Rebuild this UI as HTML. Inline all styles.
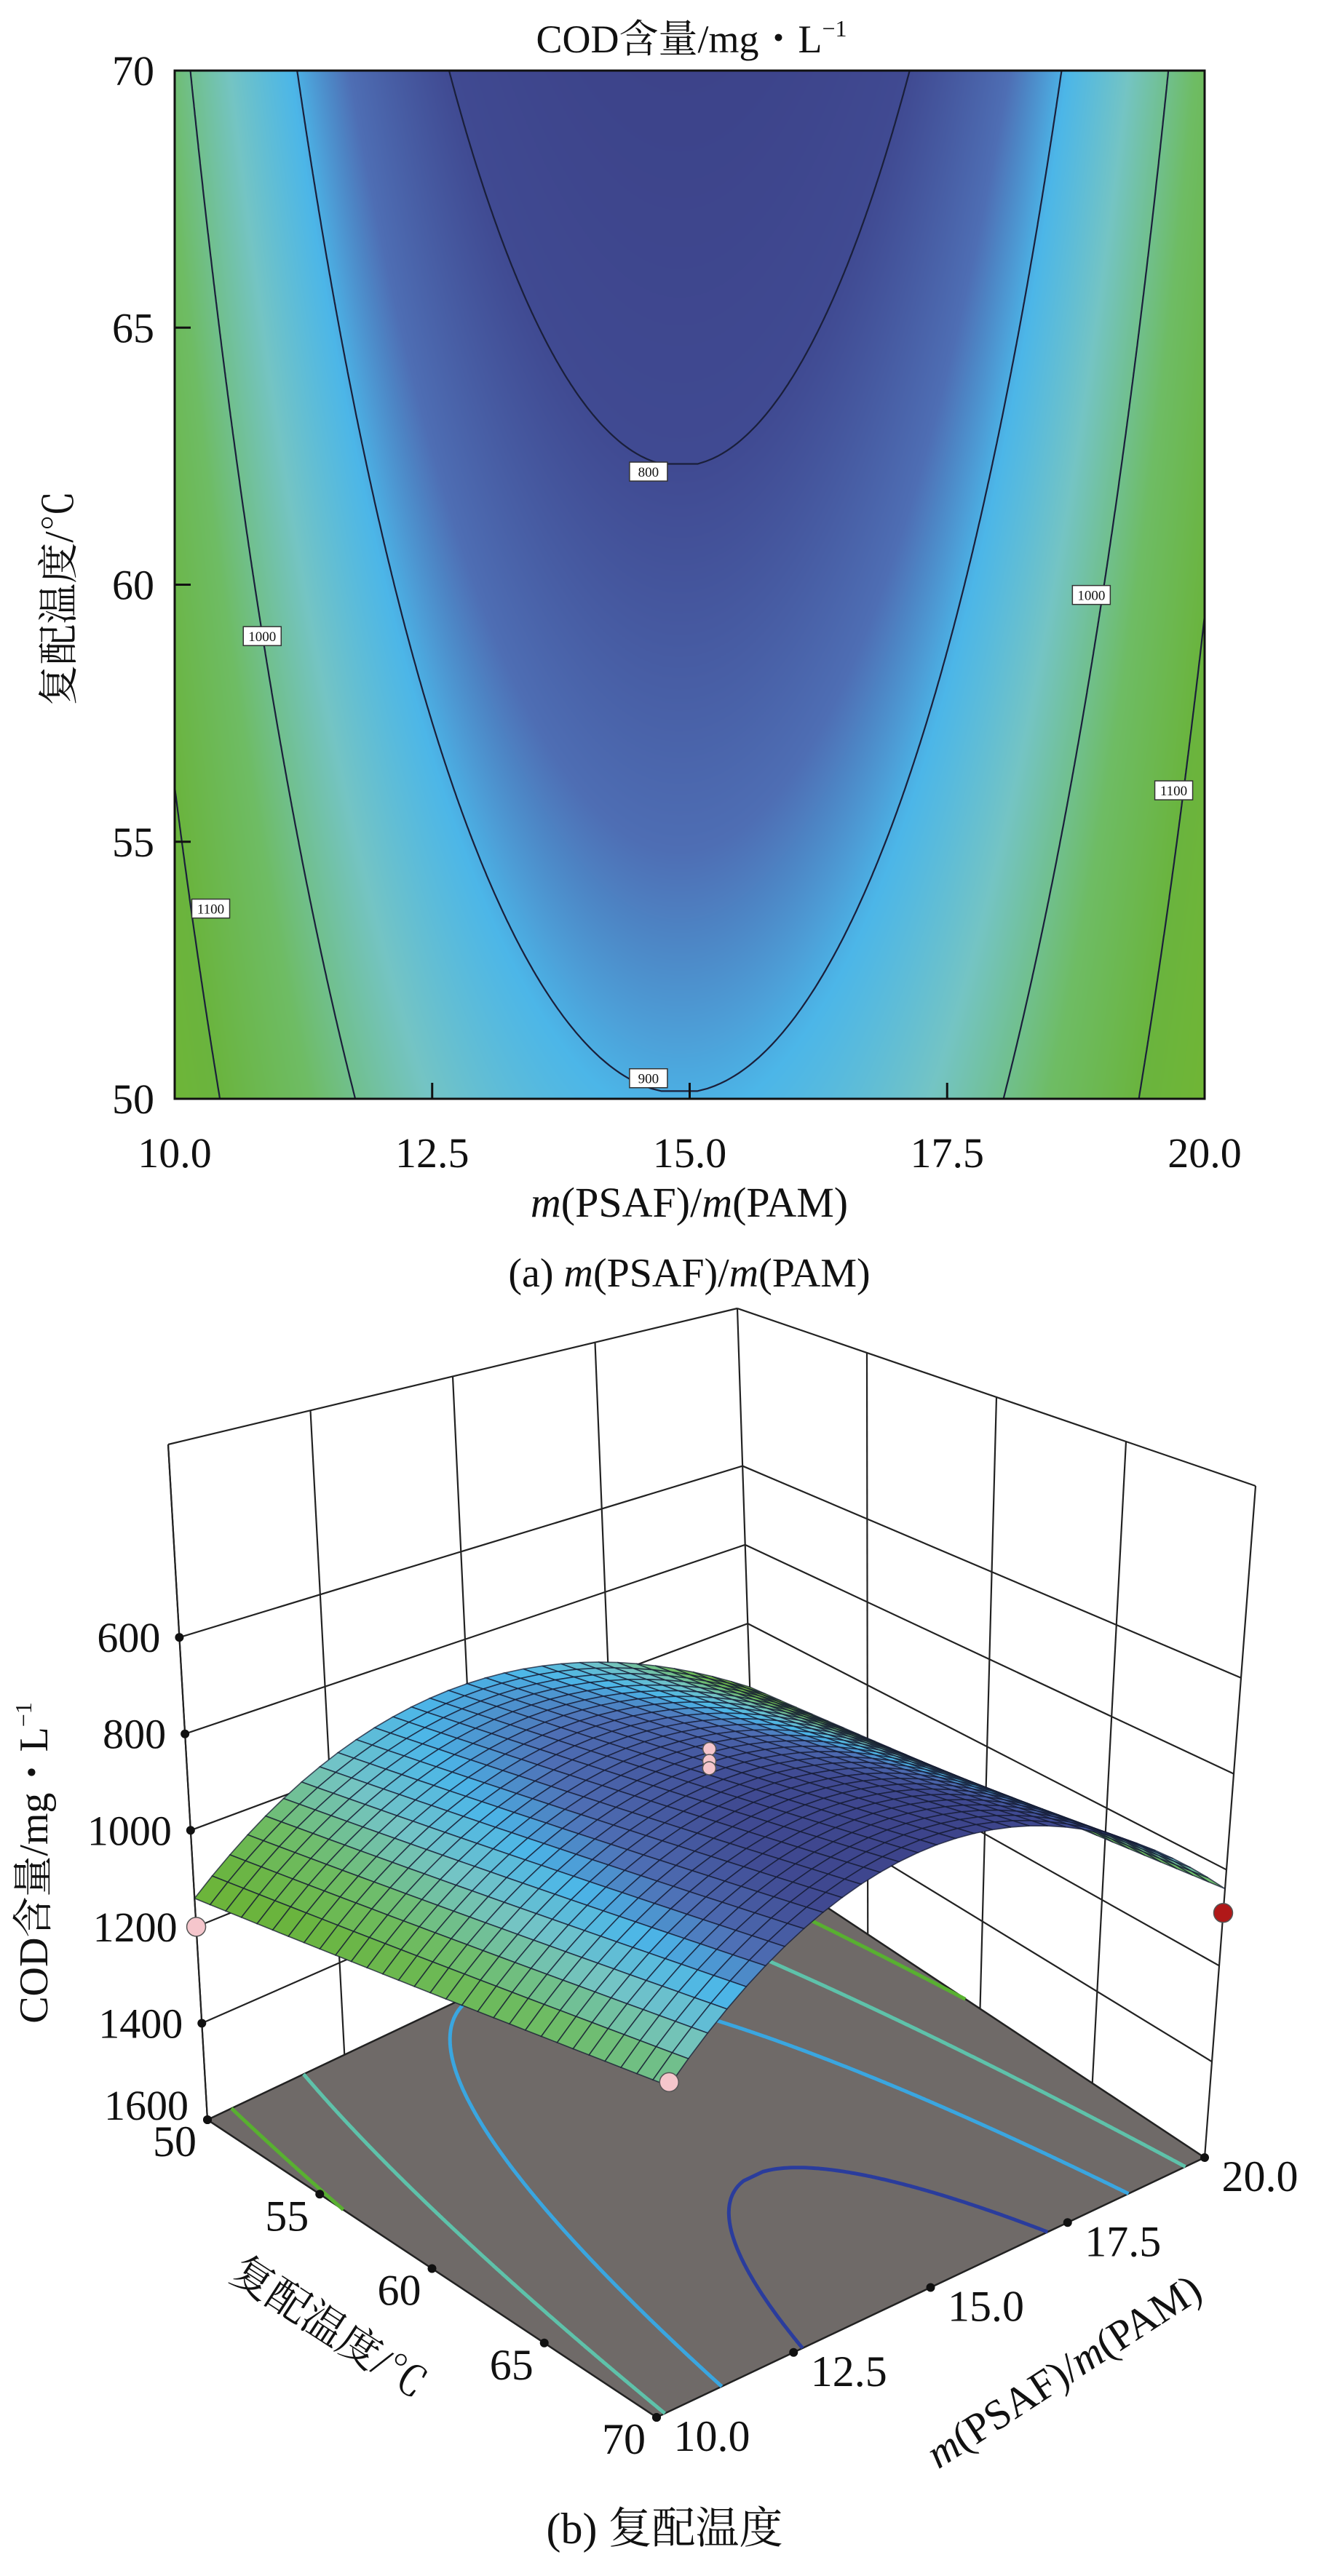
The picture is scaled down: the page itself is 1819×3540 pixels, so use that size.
<!DOCTYPE html>
<html><head><meta charset="utf-8">
<style>
html,body{margin:0;padding:0;background:#fff;}
#wrap{position:relative;width:1819px;height:3540px;overflow:hidden;background:#fff;}
#heat{position:absolute;left:240px;top:97px;width:1415px;height:1413px;}
#svg{position:absolute;left:0;top:0;}
text{font-family:"Liberation Serif","Noto Serif CJK SC",serif;fill:#111;}
</style></head>
<body>
<div id="wrap">
<canvas id="heat" width="1415" height="1413"></canvas>
<svg id="svg" width="1819" height="3540" xmlns="http://www.w3.org/2000/svg">
  <g id="g2d"></g>
  <g id="g3d"></g>
  <text x="950" y="72" font-size="54" text-anchor="middle">COD含量/mg・L<tspan font-size="32" dy="-22">−1</tspan></text>
  <text x="947" y="1672" font-size="58" text-anchor="middle"><tspan font-style="italic">m</tspan>(PSAF)/<tspan font-style="italic">m</tspan>(PAM)</text>
  <text x="100" y="822" font-size="56" text-anchor="middle" transform="rotate(-90 100 822)">复配温度/℃</text>
  <text x="947" y="1768" font-size="56" text-anchor="middle">(a) <tspan font-style="italic">m</tspan>(PSAF)/<tspan font-style="italic">m</tspan>(PAM)</text>
  <text x="65" y="2560" font-size="56" text-anchor="middle" transform="rotate(-90 65 2560)">COD含量/mg・L<tspan font-size="32" dy="-22">−1</tspan></text>
  <text x="452" y="3218" font-size="58" text-anchor="middle" transform="rotate(33 452 3198)">复配温度/℃</text>
  <text x="1461" y="3278" font-size="58" text-anchor="middle" transform="rotate(-33 1461 3258)"><tspan font-style="italic">m</tspan>(PSAF)/<tspan font-style="italic">m</tspan>(PAM)</text>
  <text x="913" y="3495" font-size="60" text-anchor="middle">(b) 复配温度</text>
</svg>
</div>
<script>
// ---- data ----
const xTicks=[10,12.5,15,17.5,20];
const yTicks=[50,55,60,65,70];
const levels=[800,900,1000,1100];
const gCoef=[818,-7.9,0.04];      // g(T)=a+b(T-60)+c(T-60)^2
const kCoef=[10,0.07];            // k(T)=k0+k1(T-50)
const ridgeR=[14.9];
const labelR=[14.6,14.6,10.85,10.35,18.9,19.7];
const labelT=[62.2,50.4,59,53.7,59.8,56];
const labelV=[800,900,1000,1100,1000,1100];
const zTicks=[600,800,1000,1200,1400,1600];
const ptT=[50,70,70,60,60,60];
const ptR=[10,10,20,15,15,15];
const ptZ=[1200,1010,1090,790,815,830];
const ptCol=['#f5c6cc','#f5c6cc','#b01818','#f5c6cc','#f5c6cc','#f5c6cc'];

const NS='http://www.w3.org/2000/svg';
function mk(tag,attrs,parent){const e=document.createElementNS(NS,tag);for(const k in attrs)e.setAttribute(k,attrs[k]);parent.appendChild(e);return e;}
function g(T){const u=T-60;return gCoef[0]+gCoef[1]*u+gCoef[2]*u*u;}
function k(T){return kCoef[0]+kCoef[1]*(T-50);}
function f(R,T){return g(T)+k(T)*(R-ridgeR[0])*(R-ridgeR[0]);}
const stops=[[700,[58,62,132]],[800,[64,74,146]],[860,[78,110,180]],[905,[76,182,232]],[960,[116,196,196]],[1030,[110,188,100]],[1100,[106,180,62]],[1250,[120,184,40]]];
function cmap(v){if(v<=stops[0][0])return stops[0][1];for(let i=1;i<stops.length;i++){if(v<=stops[i][0]){const a=stops[i-1],b=stops[i];const t=(v-a[0])/(b[0]-a[0]);return a[1].map((c,j)=>Math.round(c+(b[1][j]-c)*t));}}return stops[stops.length-1][1];}
function contourPts(L){const left=[],right=[];for(let T=70;T>=50-1e-9;T-=0.05){const h=(L-g(T))/k(T);if(h<0)continue;const d=Math.sqrt(h);left.push([ridgeR[0]-d,T]);right.unshift([ridgeR[0]+d,T]);}return [left,right];}

// ---- 2D ----
const X0=240,X1=1655,Y0=97,Y1=1510;
const X=R=>X0+(R-10)/10*(X1-X0);
const Y=T=>Y1-(T-50)/20*(Y1-Y0);
const cv=document.getElementById('heat');const ctx=cv.getContext('2d');
const img=ctx.createImageData(cv.width,cv.height);
for(let py=0;py<cv.height;py++){const T=70-py/(cv.height-1)*20;for(let px=0;px<cv.width;px++){const R=10+px/(cv.width-1)*10;const c=cmap(f(R,T));const i=(py*cv.width+px)*4;img.data[i]=c[0];img.data[i+1]=c[1];img.data[i+2]=c[2];img.data[i+3]=255;}}
ctx.putImageData(img,0,0);
const g2=document.getElementById('g2d');
const cp=mk('clipPath',{id:'clip2'},g2);mk('rect',{x:X0,y:Y0,width:X1-X0,height:Y1-Y0},cp);
levels.forEach(L=>{const [l,r]=contourPts(L);const pts=(L<=900)?[l.concat(r)]:[l,r];pts.forEach(p=>{if(p.length<2)return;const d='M'+p.map(q=>X(q[0]).toFixed(1)+','+Y(q[1]).toFixed(1)).join('L');const e=mk('path',{d:d,fill:'none',stroke:'#1a1f3a','stroke-width':2.2,'clip-path':'url(#clip2)'},g2);

});});
labelV.forEach((v,i)=>{const cx=X(labelR[i]),cy=Y(labelT[i]);const r=mk('rect',{x:cx-26,y:cy-13,width:52,height:26,fill:'#fff',stroke:'#333','stroke-width':1.5},g2);


const t=mk('text',{x:cx,y:cy+7,'font-size':19,'text-anchor':'middle'},g2);t.textContent=v;

});
const fr=mk('rect',{x:X0,y:Y0,width:X1-X0,height:Y1-Y0,fill:'none',stroke:'#111','stroke-width':3},g2);


xTicks.forEach(v=>{const x=X(v);if(v>10&&v<20)mk('line',{x1:x,y1:Y1,x2:x,y2:Y1-22,stroke:'#111','stroke-width':3},g2);const t=mk('text',{x:x,y:1604,'font-size':58,'text-anchor':'middle'},g2);t.textContent=v.toFixed(1);

});
yTicks.forEach(v=>{const y=Y(v);if(v>50&&v<70)mk('line',{x1:X0,y1:y,x2:X0+22,y2:y,stroke:'#111','stroke-width':3},g2);const t=mk('text',{x:212,y:y+20,'font-size':58,'text-anchor':'end'},g2);t.textContent=v;

});

// ---- 3D ----
const B0={L:[285,2913],F:[902,3322],Rt:[1655,2965],B:[1038,2556]};
const Tp={L:[231,1985],F:[943,2229],Rt:[1725,2042],B:[1013,1798]};
function bil(C,u,v){return [0,1].map(j=>(1-u)*(1-v)*C.L[j]+u*(1-v)*C.F[j]+u*v*C.Rt[j]+(1-u)*v*C.B[j]);}
function P(T,R,z){const u=(T-50)/20,v=(R-10)/10,t=(1600-z)/1400;const a=bil(B0,u,v),b=bil(Tp,u,v);return [a[0]+(b[0]-a[0])*t,a[1]+(b[1]-a[1])*t];}
const g3=document.getElementById('g3d');
const ps=a=>a.map(p=>p[0].toFixed(1)+','+p[1].toFixed(1)).join(' ');
function line(a,b,w,name){const e=mk('line',{x1:a[0],y1:a[1],x2:b[0],y2:b[1],stroke:'#222','stroke-width':w||2.2},g3);

return e;}
// walls
const zg=[600,800,1000,1200,1400,200];
zg.forEach(z=>{line(P(50,10,z),P(50,20,z));line(P(50,20,z),P(70,20,z));});
[10,12.5,15,17.5,20].forEach(R=>line(P(50,R,1600),P(50,R,200)));
[55,60,65,70].forEach(T=>line(P(T,20,1600),P(T,20,200)));
// floor
const fl=mk('polygon',{points:ps([P(50,10,1600),P(70,10,1600),P(70,20,1600),P(50,20,1600)]),fill:'#6f6a68',stroke:'#222','stroke-width':2.5},g3);


const fcol={800:'#2a3c9c',900:'#3aa6e0',1000:'#5ec2aa',1100:'#58b030'};
levels.forEach(L=>{const [l,r]=contourPts(L);const parts=(L<=900)?[l.concat(r)]:[l,r];parts.forEach(p=>{const q=p.filter(a=>a[0]>=10&&a[0]<=20);if(q.length<2)return;const e=mk('polyline',{points:ps(q.map(a=>P(a[1],a[0],1600))),fill:'none',stroke:fcol[L],'stroke-width':5},g3);

});});
// axis ticks
line(P(50,10,1600),P(50,10,200),2.2,'z-axis');
zTicks.forEach(z=>{const p=P(50,10,z);const c=mk('circle',{cx:p[0],cy:p[1],r:6,fill:'#111'},g3);
const t=mk('text',{x:p[0]-26,y:p[1]+(z===1600?0:20),'font-size':58,'text-anchor':'end'},g3);t.textContent=z;

});
yTicks.forEach(T=>{const p=P(T,10,1600);const c=mk('circle',{cx:p[0],cy:p[1],r:6,fill:'#111'},g3);
const t=mk('text',{x:p[0]-45,y:p[1]+50,'font-size':60,'text-anchor':'middle'},g3);t.textContent=T;

});
xTicks.forEach(R=>{const p=P(70,R,1600);const c=mk('circle',{cx:p[0],cy:p[1],r:6,fill:'#111'},g3);
const t=mk('text',{x:p[0]+76,y:p[1]+46,'font-size':60,'text-anchor':'middle'},g3);t.textContent=R.toFixed(1);

});
// surface
const N=30,quads=[];
for(let i=0;i<N;i++)for(let j=0;j<N;j++){const T0=50+20*i/N,T1=50+20*(i+1)/N,R0=10+10*j/N,R1=10+10*(j+1)/N;
const c=[[T0,R0],[T1,R0],[T1,R1],[T0,R1]];const vals=c.map(a=>f(a[1],a[0]));
quads.push({key:(i+0.5)/N-(j+0.5)/N,pts:c.map((a,n)=>P(a[0],a[1],vals[n])),v:vals.reduce((s,x)=>s+x,0)/4});}
quads.sort((a,b)=>a.key-b.key);
const gs=mk('g',{},g3);
quads.forEach(q=>{const c=cmap(q.v);const e=mk('polygon',{points:ps(q.pts),fill:'rgb('+c.join(',')+')',stroke:'rgba(20,25,50,0.75)','stroke-width':1.6},gs);

});
// design points
ptZ.forEach((z,i)=>{const p=P(ptT[i],ptR[i],z);const c=mk('circle',{cx:p[0],cy:p[1],r:i>=3?9:13,fill:ptCol[i],stroke:'#555','stroke-width':1.5},g3);

});
</script>
</body></html>
